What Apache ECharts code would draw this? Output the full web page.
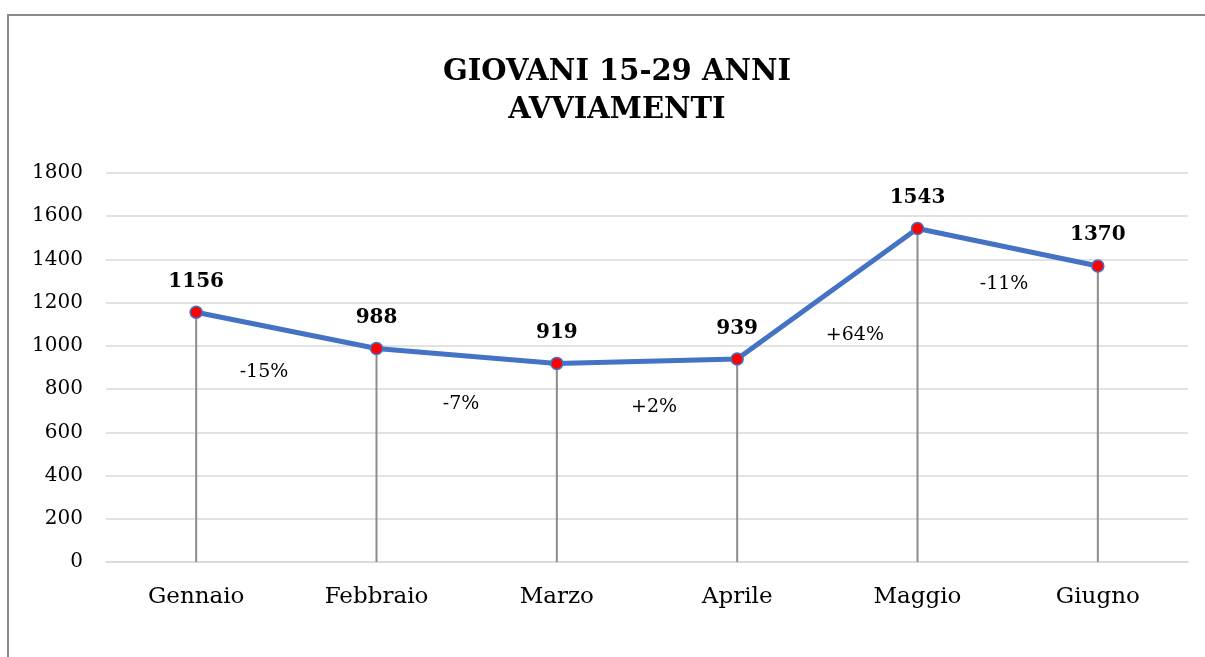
<!DOCTYPE html>
<html>
<head>
<meta charset="utf-8">
<script src="https://cdn.jsdelivr.net/npm/echarts@6/dist/echarts.min.js"></script>
<style>
html,body{margin:0;padding:0;background:#fff;}
#chart{width:1205px;height:657px;}
</style>
</head>
<body>
<div id="chart"></div>
<script>
const titleText = 'GIOVANI 15-29 ANNI\nAVVIAMENTI';
const categories = ['Gennaio', 'Febbraio', 'Marzo', 'Aprile', 'Maggio', 'Giugno'];
const values = [1156, 988, 919, 939, 1543, 1370];
const yTicks = { min: 0, max: 1800, interval: 200 };
const changeLabels = ['-15%', '-7%', '+2%', '+64%', '-11%'];
const changeX = [0.376, 1.469, 2.539, 3.653, 4.480];
const changeY = [879, 731, 717, 1050, 1286];

const serif = 'DejaVu Serif';
const chart = echarts.init(document.getElementById('chart'), null, { renderer: 'canvas' });

const changeData = changeLabels.map((t, i) => ({ value: [changeX[i], changeY[i]], name: t }));

chart.setOption({
  backgroundColor: '#ffffff',
  animation: false,
  graphic: [{
    type: 'rect',
    shape: { x: 8, y: 15, width: 1220, height: 700 },
    style: { fill: 'none', stroke: '#8a8a8a', lineWidth: 2 },
    silent: true, z: -10
  }],
  title: {
    text: titleText,
    left: 612,
    textAlign: 'center',
    top: 48,
    textStyle: { fontFamily: serif, fontWeight: 'bold', fontSize: 29, color: '#000', lineHeight: 38 }
  },
  grid: { left: 106, right: 17, top: 173, bottom: 95, containLabel: false },
  xAxis: [{
    type: 'category',
    data: categories,
    boundaryGap: true,
    axisLine: { show: true, lineStyle: { color: '#d9d9d9', width: 1.5 } },
    axisTick: { show: false },
    axisLabel: { fontFamily: serif, fontSize: 23, color: '#000', margin: 24 },
    splitLine: { show: false }
  }, {
    type: 'value',
    min: -0.5, max: 5.5,
    show: false
  }],
  yAxis: {
    type: 'value',
    min: yTicks.min, max: yTicks.max, interval: yTicks.interval,
    axisLine: { show: false },
    axisTick: { show: false },
    axisLabel: { fontFamily: serif, fontSize: 20, color: '#000', margin: 23, formatter: v => String(v) },
    splitLine: { lineStyle: { color: '#d9d9d9', width: 1.5 } }
  },
  series: [{
    type: 'bar',
    data: values,
    barWidth: 2,
    itemStyle: { color: '#8c8c8c' },
    silent: true,
    z: 1
  }, {
    type: 'line',
    data: values,
    symbol: 'circle',
    symbolSize: 12,
    lineStyle: { color: '#4472C4', width: 5 },
    itemStyle: { color: '#ff0000', borderColor: '#4472C4', borderWidth: 1.5 },
    label: {
      show: true,
      position: 'top',
      distance: 14,
      fontFamily: serif,
      fontWeight: 'bold',
      fontSize: 20,
      color: '#000'
    },
    z: 3
  }, {
    type: 'scatter',
    xAxisIndex: 1,
    data: changeData,
    symbolSize: 0,
    itemStyle: { opacity: 1 },
    label: {
      show: true,
      position: 'inside',
      formatter: p => p.name,
      fontFamily: serif,
      fontSize: 19,
      color: '#000'
    },
    z: 4
  }]
});
</script>
</body>
</html>
